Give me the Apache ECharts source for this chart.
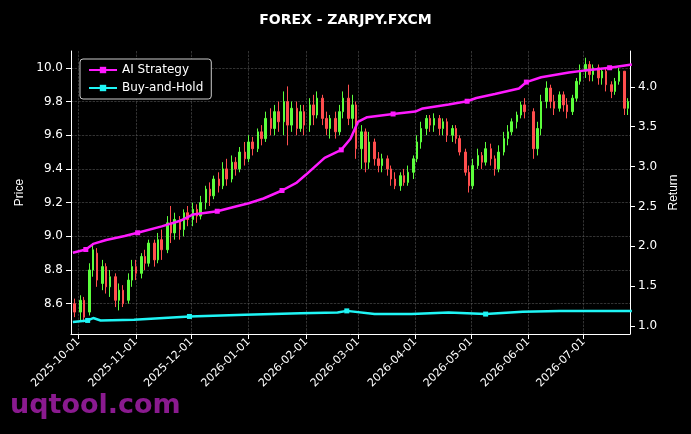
<!DOCTYPE html>
<html><head><meta charset="utf-8">
<script src="https://cdn.jsdelivr.net/npm/echarts@6/dist/echarts.min.js"></script>
<style>html,body{margin:0;background:#000}#c{width:691px;height:434px}</style>
</head><body><div id="c"></div>
<script>
// day offsets from 2025-10-01
const candleDays=[-2,1,3,6,8,10,13,15,17,20,22,24,27,29,31,34,36,38,41,43,45,48,50,52,55,57,59,62,64,66,69,71,73,76,78,80,83,85,87,90,92,94,97,99,101,104,106,108,111,113,115,118,120,122,125,127,129,132,134,136,139,141,143,146,148,150,153,155,157,160,162,164,167,169,171,174,176,178,181,183,185,188,190,192,195,197,199,202,204,206,209,211,213,216,218,220,223,225,227,230,232,234,237,239,241,246,248,250,253,255,257,260,262,264,267,269,271,274,276,278,281,283,285,288,290,292,295,297];
// [open, close, low, high]
const candleOCLH=[[8.60,8.55,8.52,8.63],[8.55,8.62,8.50,8.65],[8.62,8.52,8.49,8.64],[8.55,8.80,8.53,8.84],[8.80,8.92,8.76,8.96],[8.90,8.74,8.70,8.93],[8.72,8.82,8.68,8.86],[8.82,8.70,8.66,8.84],[8.70,8.76,8.64,8.80],[8.76,8.62,8.58,8.78],[8.62,8.68,8.56,8.72],[8.68,8.60,8.58,8.71],[8.62,8.74,8.60,8.78],[8.74,8.82,8.70,8.86],[8.82,8.78,8.74,8.86],[8.78,8.88,8.75,8.90],[8.88,8.84,8.80,8.92],[8.84,8.96,8.82,8.98],[8.96,8.86,8.82,8.98],[8.86,8.98,8.84,9.02],[8.98,8.92,8.86,9.04],[8.92,9.08,8.90,9.12],[9.08,9.02,8.96,9.18],[9.02,9.10,8.98,9.14],[9.10,9.04,8.98,9.12],[9.04,9.14,9.00,9.16],[9.14,9.10,9.06,9.18],[9.10,9.16,9.06,9.20],[9.16,9.12,9.08,9.19],[9.12,9.20,9.10,9.24],[9.20,9.28,9.16,9.30],[9.28,9.24,9.18,9.32],[9.24,9.34,9.22,9.36],[9.34,9.30,9.26,9.38],[9.30,9.40,9.28,9.44],[9.40,9.34,9.30,9.46],[9.34,9.44,9.32,9.48],[9.44,9.40,9.36,9.47],[9.40,9.50,9.38,9.53],[9.50,9.46,9.42,9.56],[9.46,9.56,9.44,9.60],[9.56,9.52,9.48,9.59],[9.52,9.62,9.50,9.64],[9.62,9.58,9.54,9.66],[9.58,9.70,9.56,9.74],[9.70,9.64,9.60,9.76],[9.64,9.74,9.60,9.78],[9.74,9.68,9.62,9.80],[9.68,9.80,9.60,9.86],[9.80,9.66,9.54,9.89],[9.66,9.76,9.62,9.80],[9.76,9.64,9.60,9.80],[9.64,9.74,9.62,9.78],[9.74,9.66,9.60,9.78],[9.66,9.78,9.62,9.82],[9.78,9.72,9.66,9.84],[9.72,9.82,9.70,9.86],[9.82,9.70,9.66,9.84],[9.70,9.64,9.60,9.74],[9.64,9.70,9.58,9.72],[9.70,9.62,9.58,9.74],[9.62,9.74,9.60,9.78],[9.74,9.82,9.70,9.86],[9.82,9.70,9.66,9.90],[9.70,9.78,9.64,9.84],[9.78,9.52,9.46,9.80],[9.52,9.62,9.40,9.66],[9.62,9.44,9.38,9.64],[9.44,9.56,9.40,9.62],[9.56,9.46,9.42,9.58],[9.46,9.42,9.38,9.50],[9.42,9.46,9.38,9.49],[9.46,9.40,9.36,9.48],[9.40,9.34,9.30,9.42],[9.34,9.30,9.28,9.38],[9.30,9.36,9.27,9.38],[9.36,9.32,9.30,9.40],[9.32,9.38,9.30,9.42],[9.38,9.46,9.34,9.48],[9.46,9.56,9.44,9.60],[9.56,9.64,9.52,9.68],[9.64,9.70,9.60,9.72],[9.70,9.66,9.62,9.72],[9.66,9.70,9.62,9.73],[9.70,9.64,9.60,9.72],[9.64,9.68,9.60,9.70],[9.68,9.60,9.56,9.70],[9.60,9.64,9.56,9.66],[9.64,9.58,9.55,9.66],[9.58,9.50,9.48,9.60],[9.50,9.38,9.36,9.52],[9.38,9.30,9.26,9.42],[9.30,9.42,9.28,9.46],[9.42,9.48,9.40,9.52],[9.48,9.44,9.40,9.50],[9.44,9.52,9.42,9.56],[9.52,9.46,9.42,9.55],[9.46,9.40,9.36,9.48],[9.40,9.50,9.38,9.54],[9.50,9.58,9.48,9.62],[9.58,9.62,9.54,9.66],[9.62,9.68,9.60,9.70],[9.68,9.72,9.64,9.74],[9.72,9.78,9.70,9.80],[9.78,9.74,9.70,9.82],[9.74,9.52,9.46,9.76],[9.52,9.64,9.48,9.68],[9.64,9.80,9.60,9.84],[9.80,9.88,9.76,9.92],[9.88,9.80,9.76,9.90],[9.80,9.76,9.72,9.84],[9.76,9.84,9.74,9.86],[9.84,9.78,9.74,9.86],[9.78,9.74,9.70,9.82],[9.74,9.82,9.72,9.84],[9.82,9.92,9.80,9.94],[9.92,9.98,9.90,10.02],[9.98,10.02,9.94,10.06],[10.02,9.96,9.92,10.04],[9.96,10.00,9.92,10.02],[10.00,9.94,9.90,10.02],[9.94,9.98,9.90,10.00],[9.98,9.90,9.86,10.00],[9.90,9.86,9.82,9.92],[9.86,9.92,9.84,9.94],[9.92,9.98,9.90,10.00],[9.98,9.76,9.72,9.98],[9.76,9.80,9.72,9.82]];
const aiDays=[-3,4,8,15,25,32,45,55,62,75,85,92,100,110,118,123,133,142,147,151,156,170,182,186,200,210,215,225,238,242,250,265,275,287,299];
const aiReturn=[1.92,1.96,2.03,2.08,2.13,2.17,2.25,2.32,2.40,2.44,2.50,2.54,2.60,2.70,2.80,2.90,3.11,3.21,3.35,3.56,3.62,3.66,3.69,3.73,3.78,3.82,3.86,3.91,3.98,4.06,4.12,4.18,4.21,4.24,4.28];
const bhDays=[-3,5,8,12,30,60,90,120,140,145,160,180,200,220,240,260,299];
const bhReturn=[1.05,1.07,1.10,1.07,1.08,1.12,1.14,1.16,1.17,1.19,1.15,1.15,1.17,1.15,1.18,1.19,1.19];
const tickLabels=['2025-10-01','2025-11-01','2025-12-01','2026-01-01','2026-02-01','2026-03-01','2026-04-01','2026-05-01','2026-06-01','2026-07-01'];
const priceTicks=[8.6,8.8,9.0,9.2,9.4,9.6,9.8,10.0];
const returnTicks=[1.0,1.5,2.0,2.5,3.0,3.5,4.0];

const DAY=86400000, base=Date.UTC(2025,9,1);
const t=d=>base+d*DAY;
const ticks=tickLabels.map(s=>Date.parse(s+'T00:00:00Z'));
const pad=n=>String(n).padStart(2,'0');
const fmt=v=>{const d=new Date(v);return d.getUTCFullYear()+'-'+pad(d.getUTCMonth()+1)+'-'+pad(d.getUTCDate());};
const candles=candleDays.map((d,i)=>[t(d),...candleOCLH[i]]);
const sym=(v,p)=>p.dataIndex%4===1?5:0;
const chart=echarts.init(document.getElementById('c'));
const gridLine={show:true,lineStyle:{color:'#555',type:'dashed',width:0.6}};
chart.setOption({
  backgroundColor:'#000',animation:false,
  title:{text:'FOREX - ZARJPY.FXCM',left:'center',top:8,textStyle:{color:'#fff',fontSize:14,fontWeight:'bold',fontFamily:'DejaVu Sans'}},
  graphic:[{type:'text',left:10,top:392,style:{text:'uqtool.com',fill:'#8a1a8f',font:'bold 27px DejaVu Sans'}}],
  legend:{left:80,top:59,orient:'vertical',itemGap:6,itemWidth:28,itemHeight:8,backgroundColor:'#000',borderColor:'#ccc',borderWidth:1,borderRadius:3,padding:[5,8],
    textStyle:{color:'#fff',fontSize:12,fontFamily:'DejaVu Sans'},data:['AI Strategy','Buy-and-Hold']},
  grid:{left:71,right:61,top:51,bottom:100},
  xAxis:{type:'value',min:t(-4),max:t(298),
    axisLine:{onZero:false,lineStyle:{color:'#fff'}},axisTick:{show:true,customValues:ticks,lineStyle:{color:'#fff'}},
    axisLabel:{customValues:ticks,formatter:v=>fmt(v),rotate:45,color:'#fff',fontSize:11,fontFamily:'DejaVu Sans',margin:6},
    splitLine:gridLine},
  yAxis:[{type:'value',min:8.42,max:10.1,name:'Price',nameLocation:'middle',nameGap:45,nameTextStyle:{color:'#fff',fontSize:12},
    axisLine:{show:true,lineStyle:{color:'#fff'}},axisTick:{show:true,customValues:priceTicks},
    axisLabel:{customValues:priceTicks,color:'#fff',fontSize:12,fontFamily:'DejaVu Sans',formatter:v=>v.toFixed(1)},
    splitLine:gridLine},
   {type:'value',min:0.9,max:4.45,name:'Return',nameLocation:'middle',nameGap:34,nameTextStyle:{color:'#fff',fontSize:12},
    axisLine:{show:true,lineStyle:{color:'#fff'}},axisTick:{show:true,customValues:returnTicks},
    axisLabel:{customValues:returnTicks,color:'#fff',fontSize:12,fontFamily:'DejaVu Sans',formatter:v=>v.toFixed(1)},
    splitLine:{show:false}}],
  series:[
   {type:'candlestick',name:'Price',data:candles,barMaxWidth:2,encode:{x:0,y:[1,2,3,4]},
    itemStyle:{color:'#5cff3c',color0:'#ff4e4e',borderColor:'#5cff3c',borderColor0:'#ff4e4e',borderWidth:1}},
   {type:'line',name:'AI Strategy',yAxisIndex:1,data:aiDays.map((d,i)=>[t(d),aiReturn[i]]),symbol:'rect',symbolSize:sym,showAllSymbol:true,
    lineStyle:{color:'#ff1aff',width:2.5},itemStyle:{color:'#ff1aff'}},
   {type:'line',name:'Buy-and-Hold',yAxisIndex:1,data:bhDays.map((d,i)=>[t(d),bhReturn[i]]),symbol:'rect',symbolSize:sym,showAllSymbol:true,
    lineStyle:{color:'#1ff5f5',width:2.5},itemStyle:{color:'#1ff5f5'}}
  ]
});
</script></body></html>
